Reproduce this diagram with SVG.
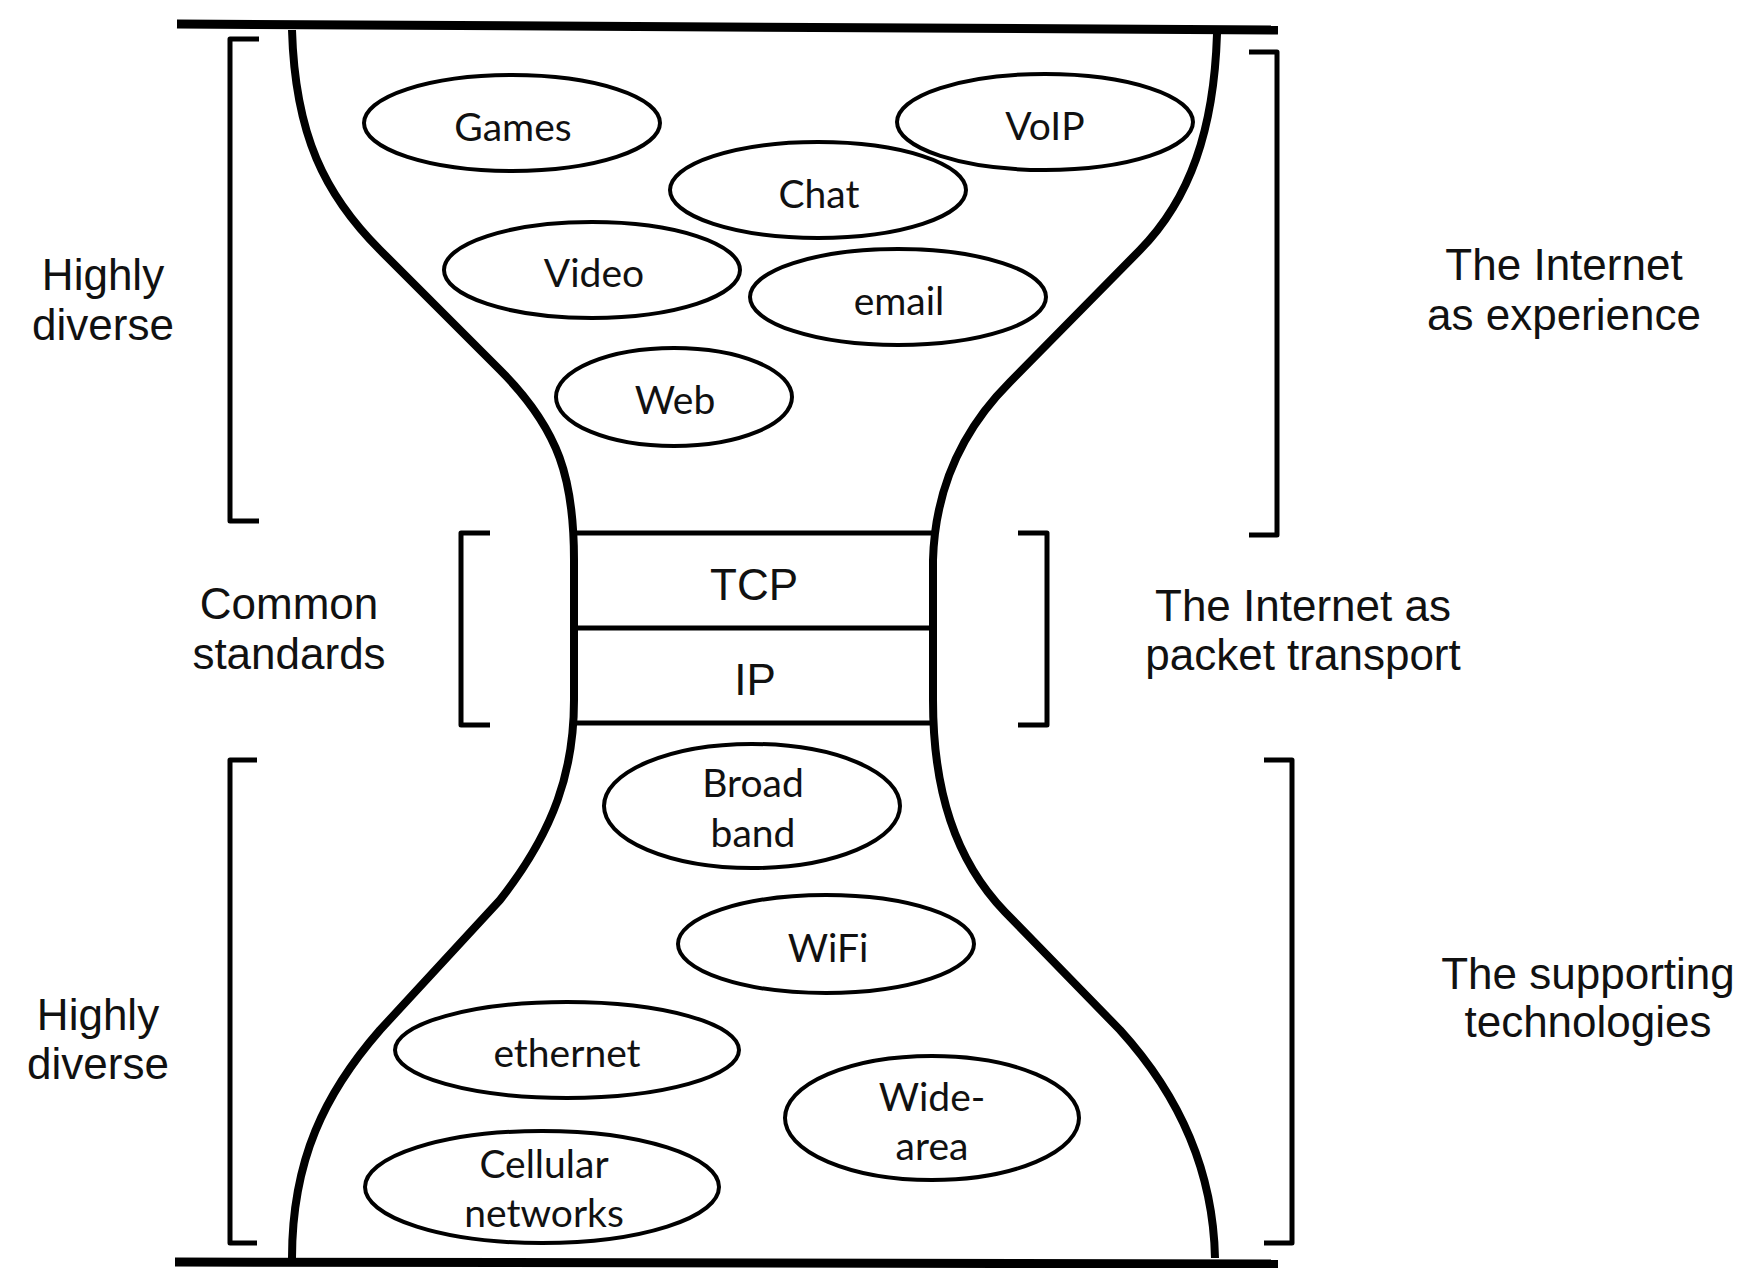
<svg xmlns="http://www.w3.org/2000/svg" width="1752" height="1268" viewBox="0 0 1752 1268">
<style>
.bg{fill:#fff}
.frame{fill:none;stroke:#000;stroke-width:9;stroke-linecap:butt}
.glass{fill:none;stroke:#000;stroke-width:8;stroke-linejoin:round}
.br{fill:none;stroke:#000;stroke-width:5;stroke-linejoin:round}
.ov{fill:#fff;stroke:#000;stroke-width:4}
.ot{font-family:Lato,"Open Sans","Noto Sans",sans-serif;font-size:39px;fill:#111;text-anchor:middle}
.lb{font-family:"Liberation Sans",Arial,sans-serif;font-size:44px;fill:#111;text-anchor:middle}
.ly{fill:none;stroke:#000;stroke-width:5}
</style>
<rect class="bg" x="0" y="0" width="1752" height="1268"/>

<g id="frame">
<line class="frame" x1="177" y1="24" x2="1278" y2="30"/>
<line class="frame" x1="175" y1="1262" x2="1278" y2="1264"/>
</g>

<g id="protocol-layers">
<g id="tcp">
<line class="ly" x1="574" y1="533" x2="933" y2="533"/>
<line class="ly" x1="574" y1="628" x2="933" y2="628"/>
<text class="lb" x="754" y="600">TCP</text>
</g>
<g id="ip">
<line class="ly" x1="574" y1="723" x2="933" y2="723"/>
<text class="lb" x="755" y="695">IP</text>
</g>
</g>

<g id="connectors">
<path class="glass" d="M292,30 C295,135 325,195 380,250 L500,370 C560,430 574,480 574,560 L574,700 C574,770 555,830 500,900 L380,1030 C325,1093 292,1160 292,1258"/>
<path class="glass" d="M1217,34 C1214,130 1190,199 1140,250 L1010,382 C960,432 935,490 933,560 L933,700 C933,790 955,860 1005,912 L1120,1030 C1170,1085 1213,1160 1215,1258"/>
</g>

<g id="brackets">
<path class="br" d="M259,39 L230,39 L230,521 L259,521"/>
<path class="br" d="M1249,52 L1277,52 L1277,535 L1249,535"/>
<path class="br" d="M490,533 L461,533 L461,725 L490,725"/>
<path class="br" d="M1018,533 L1047,533 L1047,725 L1018,725"/>
<path class="br" d="M257,760 L230,760 L230,1243 L257,1243"/>
<path class="br" d="M1264,760 L1292,760 L1292,1243 L1264,1243"/>
</g>

<g id="games"><ellipse class="ov" cx="512" cy="123" rx="148" ry="48"/><text class="ot" x="513" y="141">Games</text></g>
<g id="voip"><ellipse class="ov" cx="1045" cy="122" rx="148" ry="48"/><text class="ot" x="1045" y="140">VoIP</text></g>
<g id="chat"><ellipse class="ov" cx="818" cy="190" rx="148" ry="48"/><text class="ot" x="819" y="208">Chat</text></g>
<g id="video"><ellipse class="ov" cx="592" cy="270" rx="148" ry="48"/><text class="ot" x="594" y="287">Video</text></g>
<g id="email"><ellipse class="ov" cx="898" cy="297" rx="148" ry="48"/><text class="ot" x="899" y="315">email</text></g>
<g id="web"><ellipse class="ov" cx="674" cy="397" rx="118" ry="49"/><text class="ot" x="675" y="414">Web</text></g>

<g id="broadband"><ellipse class="ov" cx="752" cy="806" rx="148" ry="62"/><text class="ot" x="753" y="797">Broad</text><text class="ot" x="753" y="847">band</text></g>
<g id="wifi"><ellipse class="ov" cx="826" cy="944" rx="148" ry="49"/><text class="ot" x="828" y="962">WiFi</text></g>
<g id="ethernet"><ellipse class="ov" cx="567" cy="1050" rx="172" ry="48"/><text class="ot" x="567" y="1067">ethernet</text></g>
<g id="widearea"><ellipse class="ov" cx="932" cy="1118" rx="147" ry="62"/><text class="ot" x="932" y="1111">Wide-</text><text class="ot" x="932" y="1160">area</text></g>
<g id="cellular"><ellipse class="ov" cx="542" cy="1187" rx="177" ry="56"/><text class="ot" x="544" y="1178">Cellular</text><text class="ot" x="544" y="1227">networks</text></g>

<g id="label-top-left"><text class="lb" x="103" y="290">Highly</text><text class="lb" x="103" y="340">diverse</text></g>
<g id="label-mid-left"><text class="lb" x="289" y="619">Common</text><text class="lb" x="289" y="669">standards</text></g>
<g id="label-bottom-left"><text class="lb" x="98" y="1030">Highly</text><text class="lb" x="98" y="1079">diverse</text></g>
<g id="label-top-right"><text class="lb" x="1564" y="280">The Internet</text><text class="lb" x="1564" y="330">as experience</text></g>
<g id="label-mid-right"><text class="lb" x="1303" y="621">The Internet as</text><text class="lb" x="1303" y="670">packet transport</text></g>
<g id="label-bottom-right"><text class="lb" x="1588" y="989">The supporting</text><text class="lb" x="1588" y="1037">technologies</text></g>
</svg>
